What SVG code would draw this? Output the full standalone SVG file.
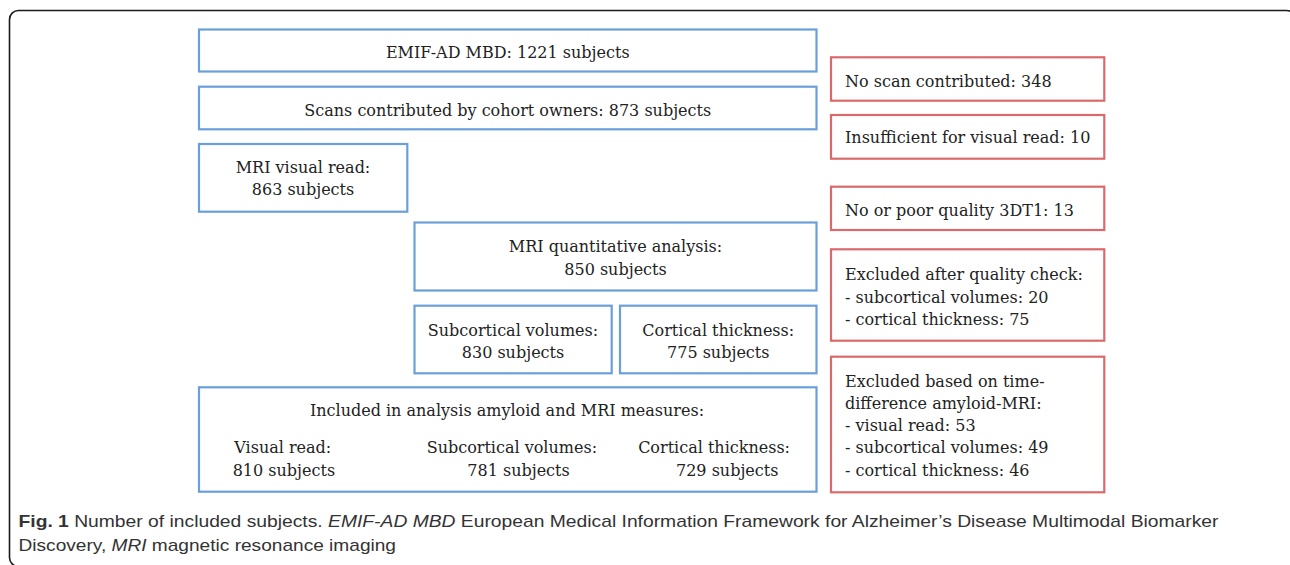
<svg xmlns="http://www.w3.org/2000/svg" width="1290" height="565" viewBox="0 0 1290 565">
<style>
.bg{fill:#ffffff}
.frame{fill:none;stroke:#1a1a1a;stroke-width:1.6}
.blue{fill:#ffffff;stroke:#6a9fdb;stroke-width:2.2}
.red{fill:#ffffff;stroke:#d9696b;stroke-width:2.2}
.t{font-family:"DejaVu Serif","Liberation Serif",serif;font-size:16px;fill:#222222}
.c{text-anchor:middle}
.e{text-anchor:end}
.cap{font-family:"Liberation Sans","Open Sans",sans-serif;font-size:17px;fill:#333333}
.b{font-weight:bold}
.i{font-style:italic}
</style>
<rect class="bg" x="0" y="0" width="1290" height="565"/>
<rect class="frame" x="9.5" y="10.5" width="1286" height="556" rx="9"/>
<g id="connectors"></g>
<g id="n-emif">
<rect class="blue" x="199" y="29.5" width="617.5" height="42"/>
<text class="t c" x="507.75" y="58.3">EMIF-AD MBD: 1221 subjects</text>
</g>
<g id="n-scans">
<rect class="blue" x="199" y="86.7" width="617.5" height="42.6"/>
<text class="t c" x="507.75" y="115.7">Scans contributed by cohort owners: 873 subjects</text>
</g>
<g id="n-visual">
<rect class="blue" x="199" y="144" width="208.3" height="67.7"/>
<text class="t c" x="303" y="172.7">MRI visual read:</text>
<text class="t c" x="303" y="195">863 subjects</text>
</g>
<g id="n-quant">
<rect class="blue" x="414.5" y="222.5" width="402" height="68"/>
<text class="t c" x="615.5" y="252.3">MRI quantitative analysis:</text>
<text class="t c" x="615.5" y="274.8">850 subjects</text>
</g>
<g id="n-subcort">
<rect class="blue" x="414.5" y="305.7" width="197.2" height="67.6"/>
<text class="t c" x="513" y="335.7">Subcortical volumes:</text>
<text class="t c" x="513" y="358.3">830 subjects</text>
</g>
<g id="n-cort">
<rect class="blue" x="620" y="305.7" width="196.5" height="67.6"/>
<text class="t c" x="718.25" y="335.7">Cortical thickness:</text>
<text class="t c" x="718.25" y="358.3">775 subjects</text>
</g>
<g id="n-included">
<rect class="blue" x="199" y="387.3" width="617.5" height="104.4"/>
<text class="t c" x="507" y="415.7">Included in analysis amyloid and MRI measures:</text>
<text class="t" x="234.3" y="453.3">Visual read:</text>
<text class="t" x="232.7" y="475.7">810 subjects</text>
<text class="t" x="426.7" y="453.3">Subcortical volumes:</text>
<text class="t" x="467.3" y="475.7">781 subjects</text>
<text class="t e" x="790" y="453.3">Cortical thickness:</text>
<text class="t" x="676" y="475.7">729 subjects</text>
</g>
<g id="n-noscan">
<rect class="red" x="831" y="57.3" width="273.3" height="43.4"/>
<text class="t" x="845" y="87.3">No scan contributed: 348</text>
</g>
<g id="n-insufficient">
<rect class="red" x="831" y="115" width="273.3" height="43.7"/>
<text class="t" x="845" y="143.3">Insufficient for visual read: 10</text>
</g>
<g id="n-poor">
<rect class="red" x="831" y="186.7" width="273.3" height="43.3"/>
<text class="t" x="845" y="216">No or poor quality 3DT1: 13</text>
</g>
<g id="n-qc">
<rect class="red" x="831" y="249.3" width="273.3" height="91.4"/>
<text class="t" x="845" y="280">Excluded after quality check:</text>
<text class="t" x="845" y="302.7">- subcortical volumes: 20</text>
<text class="t" x="845" y="325">- cortical thickness: 75</text>
</g>
<g id="n-time">
<rect class="red" x="831" y="356.7" width="273.3" height="135.6"/>
<text class="t" x="845" y="386.7">Excluded based on time-</text>
<text class="t" x="845" y="409">difference amyloid-MRI:</text>
<text class="t" x="845" y="431">- visual read: 53</text>
<text class="t" x="845" y="453.3">- subcortical volumes: 49</text>
<text class="t" x="845" y="475.7">- cortical thickness: 46</text>
</g>
<g id="caption">
<text class="cap" x="18.5" y="527" textLength="1200" lengthAdjust="spacingAndGlyphs"><tspan class="b">Fig. 1</tspan> Number of included subjects. <tspan class="i">EMIF-AD MBD</tspan> European Medical Information Framework for Alzheimer’s Disease Multimodal Biomarker</text>
<text class="cap" x="18.5" y="551" textLength="377.5" lengthAdjust="spacingAndGlyphs">Discovery, <tspan class="i">MRI</tspan> magnetic resonance imaging</text>
</g>
</svg>
